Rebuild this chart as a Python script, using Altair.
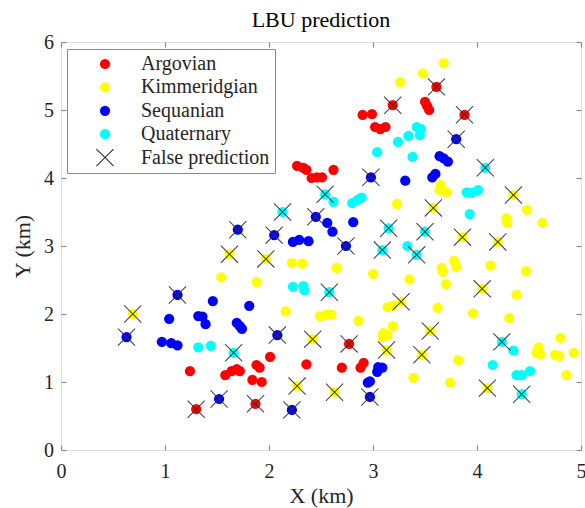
import altair as alt
import pandas as pd

# ---------------- data (km) ----------------
categories = ["Argovian", "Kimmeridgian", "Sequanian", "Quaternary"]
false_label = "False prediction"

argovian_x = [2.27, 2.33, 2.36, 2.41, 2.46, 2.51, 2.62, 2.90, 2.99, 3.02, 3.07, 3.12, 3.19, 3.50, 3.52, 3.54, 3.61, 3.88,
              1.24, 1.58, 1.64, 1.69, 1.72, 1.88, 1.91, 1.84, 1.93, 2.01, 2.36, 1.30, 1.87, 2.77, 2.70, 2.88, 2.91]
argovian_y = [4.18, 4.15, 4.12, 4.00, 4.01, 4.01, 4.12, 4.93, 4.94, 4.75, 4.72, 4.75, 5.07, 5.12, 5.06, 5.00, 5.34, 4.93,
              1.16, 1.10, 1.16, 1.19, 1.16, 1.25, 1.21, 1.03, 1.00, 1.37, 1.26, 0.60, 0.68, 1.56, 1.21, 1.21, 1.28]
argovian_false = [0, 0, 0, 0, 0, 0, 0, 0, 0, 0, 0, 0, 1, 0, 0, 0, 1, 1,
                  0, 0, 0, 0, 0, 0, 0, 0, 0, 0, 0, 1, 1, 1, 0, 0, 0]

kimmeridgian_x = [3.26, 3.48, 3.68, 3.65, 3.64, 3.71, 3.23, 3.58, 4.35, 4.48, 4.28, 4.29, 4.63, 3.86, 4.20,
                  1.62, 1.97, 2.22, 2.32, 1.54, 1.88, 2.16, 2.49, 2.55, 2.60, 0.69, 2.42, 2.27,
                  2.65, 3.00, 3.35, 3.66, 3.67, 3.78, 3.80, 4.13, 4.47, 3.70, 4.05, 4.38, 3.27, 3.14, 3.19,
                  3.62, 3.96, 4.31, 2.86, 3.19, 3.10, 3.14, 3.09, 3.55, 3.13, 3.47, 3.82, 3.39, 3.74, 4.10,
                  2.63, 4.59, 4.57, 4.61, 4.75, 4.79, 4.80, 4.93, 4.86]
kimmeridgian_y = [5.41, 5.54, 5.69, 3.90, 3.82, 3.79, 3.62, 3.56, 3.75, 3.53, 3.41, 3.34, 3.34, 3.13, 3.06,
                  2.88, 2.81, 2.75, 2.74, 2.54, 2.47, 2.04, 1.97, 1.99, 1.99, 2.00, 1.63, 0.94,
                  2.68, 2.59, 2.51, 2.68, 2.62, 2.78, 2.69, 2.71, 2.63, 2.44, 2.37, 2.28, 2.18, 2.10, 2.12,
                  2.09, 2.01, 1.94, 1.90, 1.82, 1.72, 1.69, 1.66, 1.75, 1.47, 1.40, 1.32, 1.06, 0.99, 0.91,
                  0.85, 1.51, 1.43, 1.41, 1.40, 1.38, 1.65, 1.43, 1.10]
kimmeridgian_false = [0, 0, 0, 0, 0, 0, 0, 1, 1, 0, 0, 0, 0, 1, 1,
                      1, 1, 0, 0, 0, 0, 0, 0, 0, 0, 1, 1, 1,
                      0, 0, 0, 0, 0, 0, 0, 0, 0, 0, 1, 0, 1, 0, 0,
                      0, 0, 0, 0, 0, 0, 0, 0, 1, 1, 1, 0, 0, 0, 1,
                      1, 0, 0, 0, 0, 0, 0, 0, 0]

sequanian_x = [2.98, 3.31, 3.57, 3.60, 3.64, 3.68, 3.72, 3.80, 2.45, 2.56, 2.61, 2.81, 2.74, 1.70, 2.05,
               2.23, 2.29, 2.38, 1.12, 1.46, 1.81, 1.04, 1.32, 1.36, 1.39, 1.69, 1.72, 1.74, 2.08, 0.63,
               0.97, 1.06, 1.12, 1.52, 2.22, 3.05, 3.09, 3.04, 2.95, 2.97, 2.97]
sequanian_y = [4.01, 3.96, 4.01, 4.06, 4.32, 4.29, 4.24, 4.57, 3.43, 3.34, 3.21, 3.35, 3.00, 3.24, 3.16,
               3.06, 3.09, 3.07, 2.28, 2.19, 2.12, 1.93, 1.97, 1.96, 1.85, 1.87, 1.82, 1.78, 1.69, 1.66,
               1.59, 1.57, 1.54, 0.75, 0.59, 1.22, 1.21, 1.15, 0.99, 1.01, 0.78]
sequanian_false = [1, 0, 0, 0, 0, 0, 0, 1, 1, 0, 0, 0, 1, 1, 1,
                   0, 0, 0, 1, 0, 0, 0, 0, 0, 0, 0, 0, 0, 1, 1,
                   0, 0, 0, 1, 1, 0, 0, 0, 0, 0, 1]

quaternary_x = [2.13, 2.54, 2.62, 2.80, 2.85, 2.89, 3.42, 3.46, 3.45, 3.34, 3.24, 3.04, 3.38, 4.08, 3.90,
                3.95, 4.01, 3.93, 3.15, 3.50, 3.09, 3.33, 3.42, 2.23, 2.33, 2.34, 1.32, 1.44, 1.66, 2.58,
                4.24, 4.35, 4.15, 4.38, 4.43, 4.51, 4.43]
quaternary_y = [3.50, 3.76, 3.65, 3.63, 3.68, 3.71, 4.75, 4.72, 4.63, 4.62, 4.53, 4.38, 4.31, 4.15, 3.79,
                3.78, 3.82, 3.47, 3.26, 3.21, 2.94, 3.00, 2.87, 2.40, 2.41, 2.35, 1.51, 1.53, 1.43, 2.32,
                1.59, 1.46, 1.25, 1.10, 1.10, 1.16, 0.82]
quaternary_false = [1, 1, 0, 0, 0, 0, 0, 0, 0, 0, 0, 0, 0, 1, 0,
                    0, 0, 0, 1, 1, 1, 0, 1, 0, 0, 0, 0, 0, 1, 1,
                    1, 0, 0, 0, 0, 0, 1]

x_ticks = [0, 1, 2, 3, 4, 5]
y_ticks = [0, 1, 2, 3, 4, 5, 6]

# ---------------- table ----------------
frames = []
for name, xs, ys, fs in [
    ("Argovian", argovian_x, argovian_y, argovian_false),
    ("Kimmeridgian", kimmeridgian_x, kimmeridgian_y, kimmeridgian_false),
    ("Sequanian", sequanian_x, sequanian_y, sequanian_false),
    ("Quaternary", quaternary_x, quaternary_y, quaternary_false),
]:
    frames.append(pd.DataFrame({"x": xs, "y": ys, "false": fs, "cat": name}))
df = pd.concat(frames, ignore_index=True)

# ---------------- styling ----------------
FONT = "Liberation Serif"
TXT = "#262626"
GRAY = "#8a8a8a"
X_PATH = ("M-1.75,-1.6L-1.6,-1.75L0,-0.15L1.6,-1.75L1.75,-1.6L0.15,0"
          "L1.75,1.6L1.6,1.75L0,0.15L-1.6,1.75L-1.75,1.6L-0.15,0Z")

domain = categories + [false_label]
color_scale = alt.Scale(domain=domain, range=["#ff0000", "#ffff00", "#0000ff", "#00ffff", "#333333"])
shape_scale = alt.Scale(domain=domain, range=["circle", "circle", "circle", "circle", X_PATH])

legend = alt.Legend(
    orient="none", legendX=6, legendY=7, title=None, padding=5,
    strokeColor=GRAY, fillColor="white",
    labelFont=FONT, labelFontSize=20, labelColor=TXT,
    symbolSize=105, symbolOffset=23, labelOffset=26, rowPadding=3.4,
    symbolStrokeWidth=0, symbolOpacity=1,
)

x_main = alt.Axis(orient="bottom", values=x_ticks, offset=-5, tickSize=5, tickColor=GRAY, tickWidth=1.2,
                  domain=False, grid=False, labelFont=FONT, labelFontSize=20, labelColor=TXT,
                  labelPadding=11, labelFlush=False, labelOverlap=False, format="d",
                  title="X (km)", titleFont=FONT, titleFontSize=22, titleFontWeight="normal",
                  titleColor=TXT, titlePadding=4)
y_main = alt.Axis(orient="left", values=y_ticks, offset=-5, tickSize=5, tickColor=GRAY, tickWidth=1.2,
                  domain=False, grid=False, labelFont=FONT, labelFontSize=20, labelColor=TXT,
                  labelPadding=7.5, labelFlush=False, labelOverlap=False, format="d",
                  title="Y (km)", titleFont=FONT, titleFontSize=22, titleFontWeight="normal",
                  titleColor=TXT, titlePadding=9)
x_top = alt.Axis(orient="top", values=x_ticks, offset=-5, tickSize=5, tickColor=GRAY, tickWidth=1.2,
                 domain=False, grid=False, labels=False, title=None)
y_right = alt.Axis(orient="right", values=y_ticks, offset=-5, tickSize=5, tickColor=GRAY, tickWidth=1.2,
                   domain=False, grid=False, labels=False, title=None)

xs = alt.Scale(domain=[0, 5], nice=False, zero=False)
ys = alt.Scale(domain=[0, 6], nice=False, zero=False)

base = alt.Chart(df)

points = base.mark_point(filled=True, size=105, opacity=1, strokeWidth=0).encode(
    x=alt.X("x:Q", scale=xs, axis=x_main),
    y=alt.Y("y:Q", scale=ys, axis=y_main),
    color=alt.Color("cat:N", scale=color_scale, legend=legend),
    shape=alt.Shape("cat:N", scale=shape_scale, legend=legend),
)

crosses = base.transform_filter("datum.false == 1").transform_calculate(
    cat="'" + false_label + "'"
).mark_point(filled=True, size=105, opacity=0.9, strokeWidth=0).encode(
    x=alt.X("x:Q", scale=xs, axis=x_top),
    y=alt.Y("y:Q", scale=ys, axis=y_right),
    color=alt.Color("cat:N", scale=color_scale, legend=legend),
    shape=alt.Shape("cat:N", scale=shape_scale, legend=legend),
)

chart = alt.layer(points, crosses).resolve_axis(x="independent", y="independent").properties(
    width=520, height=408,
    autosize=alt.AutoSizeParams(type="none"),
    padding={"left": 61, "top": 42, "right": 4, "bottom": 58},
    title=alt.TitleParams("LBU prediction", font=FONT, fontSize=22, fontWeight="normal", color="#000000",
                          offset=0, anchor="middle", frame="group"),
).configure_view(stroke=GRAY, strokeWidth=1.3).configure(background="white").configure_legend(
    labelFont=FONT, labelFontSize=20, labelColor=TXT
)

chart.save("out.html", embed_options={"renderer": "svg", "actions": False})
